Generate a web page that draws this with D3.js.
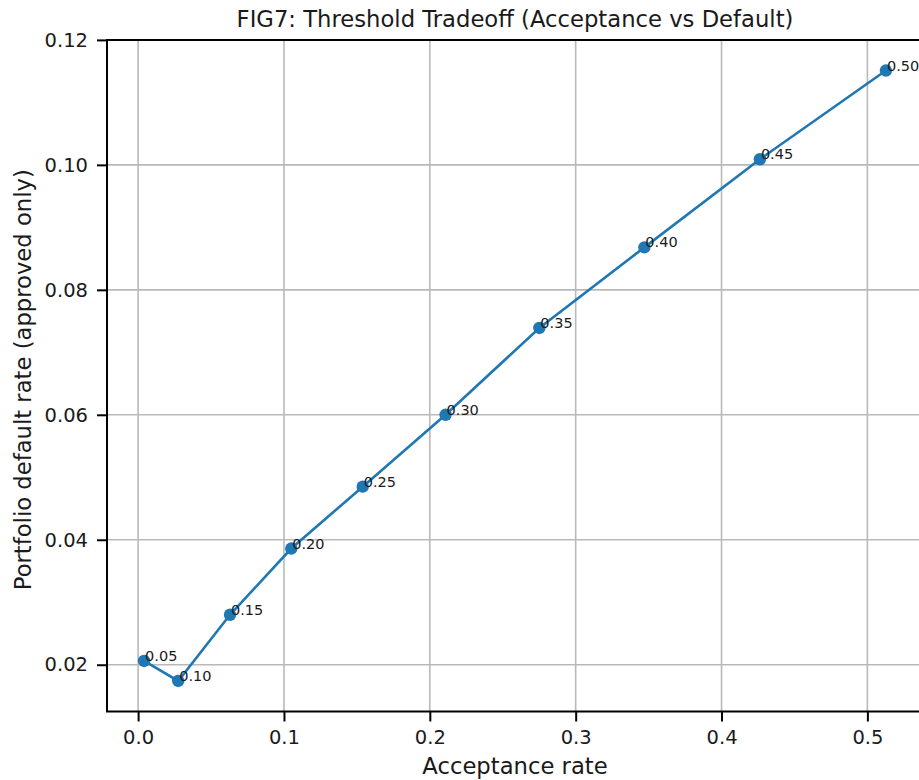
<!DOCTYPE html>
<html>
<head>
<meta charset="utf-8">
<script src="https://cdn.jsdelivr.net/npm/d3@7"></script>
<style>
  html, body { margin: 0; padding: 0; background: #fff; }
  svg { display: block; font-family: "DejaVu Sans", sans-serif; }
</style>
</head>
<body>
<svg id="chart" width="919" height="780"></svg>
<script>
// Decision thresholds and the resulting acceptance / default rates
const thresholds = [0.05, 0.10, 0.15, 0.20, 0.25, 0.30, 0.35, 0.40, 0.45, 0.50];
const acceptanceRate = [0.0041, 0.0275, 0.0630, 0.1050, 0.1540, 0.2108, 0.2751, 0.3471, 0.4263, 0.5127];
const defaultRate = [0.0206, 0.0174, 0.0280, 0.0386, 0.0485, 0.0600, 0.0739, 0.0868, 0.1009, 0.1151];

const xTicks = [0.0, 0.1, 0.2, 0.3, 0.4, 0.5];
const yTicks = [0.02, 0.04, 0.06, 0.08, 0.10, 0.12];

const titleText = "FIG7: Threshold Tradeoff (Acceptance vs Default)";
const xLabelText = "Acceptance rate";
const yLabelText = "Portfolio default rate (approved only)";

const points = thresholds.map((t, i) => ({ t, x: acceptanceRate[i], y: defaultRate[i] }));

const svg = d3.select("#chart");
const plot = { left: 107, top: 40, right: 923, bottom: 711.5 };

// 5% padding around the data extent on both axes
function padded(values) {
  const [lo, hi] = d3.extent(values);
  const m = (hi - lo) * 0.05;
  return [lo - m, hi + m];
}

const x = d3.scaleLinear().domain(padded(acceptanceRate)).range([plot.left, plot.right]);
const y = d3.scaleLinear().domain(padded(defaultRate)).range([plot.bottom, plot.top]);

const gridColor = "#b9b9b9";

// grid
svg.append("g").selectAll("line").data(xTicks).join("line")
  .attr("x1", d => x(d)).attr("x2", d => x(d))
  .attr("y1", plot.top).attr("y2", plot.bottom)
  .attr("stroke", gridColor).attr("stroke-width", 1.6);
svg.append("g").selectAll("line").data(yTicks).join("line")
  .attr("x1", plot.left).attr("x2", plot.right)
  .attr("y1", d => y(d)).attr("y2", d => y(d))
  .attr("stroke", gridColor).attr("stroke-width", 1.6);

// axes
const xAxis = d3.axisBottom(x).tickValues(xTicks).tickFormat(d3.format(".1f"))
  .tickSizeInner(10).tickSizeOuter(0).tickPadding(9);
const yAxis = d3.axisLeft(y).tickValues(yTicks).tickFormat(d3.format(".2f"))
  .tickSizeInner(10).tickSizeOuter(0).tickPadding(9);

const gx = svg.append("g").attr("transform", `translate(0,${plot.bottom})`).call(xAxis);
const gy = svg.append("g").attr("transform", `translate(${plot.left},0)`).call(yAxis);
[gx, gy].forEach(g => {
  g.select(".domain").remove();
  g.selectAll(".tick line").attr("stroke", "#000").attr("stroke-width", 2);
  g.selectAll(".tick text").attr("fill", "#1a1a1a")
    .style("font-family", "'DejaVu Sans', sans-serif").style("font-size", "19.5px");
});

// spines
svg.append("rect")
  .attr("x", plot.left).attr("y", plot.top)
  .attr("width", plot.right - plot.left).attr("height", plot.bottom - plot.top)
  .attr("fill", "none").attr("stroke", "#000").attr("stroke-width", 2);

// series line and markers
const color = "#1f77b4";
const line = d3.line().x(d => x(d.x)).y(d => y(d.y));
svg.append("path").datum(points)
  .attr("d", line).attr("fill", "none")
  .attr("stroke", color).attr("stroke-width", 2.6);

svg.append("g").selectAll("circle").data(points).join("circle")
  .attr("cx", d => x(d.x)).attr("cy", d => y(d.y)).attr("r", 6.2)
  .attr("fill", color);

// threshold annotations
svg.append("g").selectAll("text").data(points).join("text")
  .attr("x", d => x(d.x) + 1).attr("y", d => y(d.y))
  .attr("fill", "#1a1a1a").style("font-size", "14.5px")
  .text(d => d3.format(".2f")(d.t));

// title and axis labels
svg.append("text")
  .attr("x", (plot.left + plot.right) / 2).attr("y", 27)
  .attr("text-anchor", "middle").attr("fill", "#1a1a1a")
  .style("font-size", "22.7px").text(titleText);

svg.append("text")
  .attr("x", (plot.left + plot.right) / 2).attr("y", 774)
  .attr("text-anchor", "middle").attr("fill", "#1a1a1a")
  .style("font-size", "22.7px").text(xLabelText);

svg.append("text")
  .attr("transform", `translate(30.5,${(plot.top + plot.bottom) / 2 + 4}) rotate(-90)`)
  .attr("text-anchor", "middle").attr("fill", "#1a1a1a")
  .style("font-size", "22.7px").text(yLabelText);
</script>
</body>
</html>
